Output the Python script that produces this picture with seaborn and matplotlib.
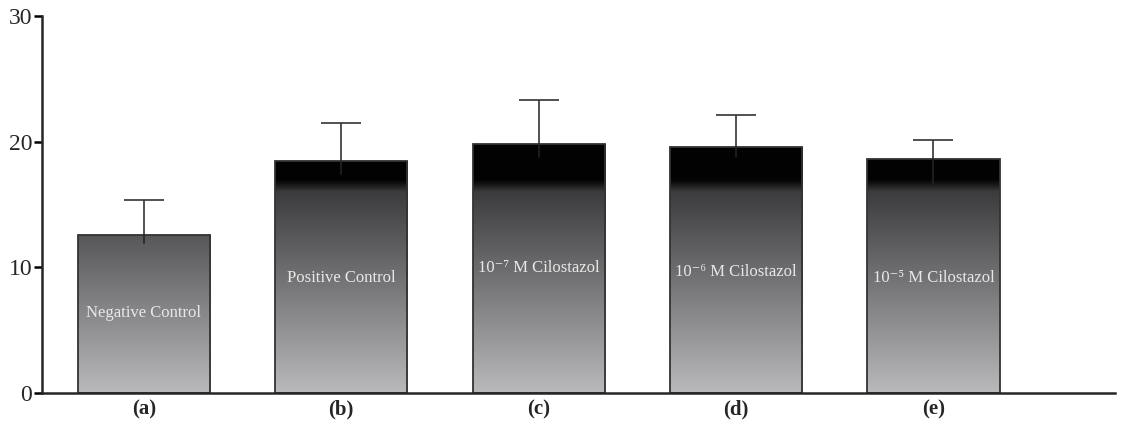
import numpy as np
import pandas as pd
import matplotlib
matplotlib.use("Agg")
import matplotlib.pyplot as plt
import seaborn as sns
from matplotlib.colors import LinearSegmentedColormap

categories = ["(a)", "(b)", "(c)", "(d)", "(e)"]
values = [12.55, 18.45, 19.8, 19.55, 18.65]
err_upper = [2.8, 3.05, 3.55, 2.55, 1.45]
err_lower = [0.6, 1.0, 1.0, 0.8, 1.9]
inner_labels = ["Negative Control", "Positive Control",
                "10\u207b\u2077 M Cilostazol",
                "10\u207b\u2076 M Cilostazol",
                "10\u207b\u2075 M Cilostazol"]
label_y = [6.4, 9.15, 9.95, 9.6, 9.15]
yticks = [0, 10, 20, 30]

sns.set_theme(style="ticks")
plt.rcParams["font.family"] = ["Liberation Serif", "DejaVu Serif"]

fig = plt.figure(figsize=(11.29, 4.23), dpi=100)
ax = fig.add_axes([0.0372, 0.0709, 0.9504, 0.8913])

df = pd.DataFrame({"cat": categories, "val": values})
sns.barplot(data=df, x="cat", y="val", ax=ax, width=0.67,
            facecolor="none", edgecolor="#333333", linewidth=1.3, errorbar=None, zorder=3)

ax.set_xlim(-0.516, 4.92)
ax.set_ylim(0, 30)

# gradient fill in absolute y coordinates
cmap = LinearSegmentedColormap.from_list(
    "g", [(0.0, "#b9b9bb"), (16.0 / 30, "#3c3c3e"), (16.5 / 30, "#1c1c1c"),
          (16.95 / 30, "#030303"), (1.0, "#000000")])
grad = np.linspace(0, 1, 900).reshape(-1, 1)
xmin, xmax = ax.get_xlim()
for p in ax.patches:
    im = ax.imshow(grad, cmap=cmap, origin="lower", aspect="auto",
                   extent=[xmin, xmax, 0, 30], zorder=2, interpolation="bilinear")
    im.set_clip_path(p)
ax.set_xlim(xmin, xmax)
ax.set_ylim(0, 30)

x = np.arange(len(categories))
ax.errorbar(x, values, yerr=[err_lower, err_upper], fmt="none", ecolor="#333333",
            elinewidth=1.2, capsize=14.5, capthick=1.2, zorder=1.5)
for xi, v, el in zip(x, values, err_lower):
    ax.plot([xi, xi], [v - el, v], color="#222222", lw=1.2, zorder=4)

for xi, lab, ly in zip(x, inner_labels, label_y):
    ax.text(xi, ly, lab, ha="center", va="center", color="#e8e8e8", fontsize=12, zorder=5)

ax.set_yticks(yticks)
ax.tick_params(axis="y", labelsize=17, length=6, width=1.8, pad=1, color="black")
ax.tick_params(axis="x", length=0, labelsize=15, pad=5)
for t in ax.get_xticklabels():
    t.set_fontweight("bold")
ax.set_xlabel("")
ax.set_ylabel("")
sns.despine(ax=ax)
ax.spines["left"].set_linewidth(1.8)
ax.spines["bottom"].set_linewidth(1.8)
ax.spines["bottom"].set_zorder(6)

fig.savefig("out.png", dpi=100)
